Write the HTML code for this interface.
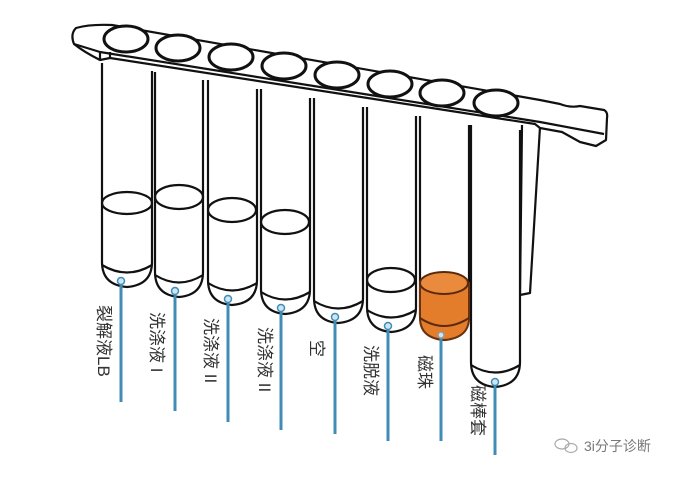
<!DOCTYPE html>
<html><head><meta charset="utf-8"><style>
html,body{margin:0;padding:0;background:#fff;width:692px;height:477px;overflow:hidden}
svg{display:block}
.t{font-family:"Liberation Sans","Noto Sans CJK SC",sans-serif;font-size:17px;fill:#333}
</style></head><body>
<svg width="692" height="477" viewBox="0 0 692 477" xmlns="http://www.w3.org/2000/svg">
<g fill="none" stroke="#111" stroke-width="2.2" stroke-linejoin="round">
<path d="M76,28 Q90,24 112,25 L540,100 L560,104 Q570,108 580,106 L604,110 Q608,112 607,118 L606,140 L596,146 L580,142 L562,132 L540,128 L535,124 L110,58 L100,60 Q84,52 74,44 Q70,34 76,28 Z" fill="#fff"/>
<path d="M74,44 L100,52 L540,122 L604,134"/>
<path d="M100,52 L100,60 M110,52 L110,58"/>
<path d="M522,125 L520,295 L530,293 L540,127"/>
</g>
<g fill="#fff" stroke="#111" stroke-width="2.2">
<path d="M102,63 L102,262 Q102,285 127,287 Q152,285 152,262 L152,71"/>
<path d="M155,72 L155,272 Q155,295 179,297 Q203,295 203,272 L203,80"/>
<path d="M208,80 L208,280 Q208,303 232,305 Q257,303 257,280 L257,89"/>
<path d="M261,89 L261,289 Q261,312 285,314 Q310,312 310,289 L310,98"/>
<path d="M314,98 L314,298 Q314,321 338,323 Q363,321 363,298 L363,107"/>
<path d="M367,107 L367,307 Q367,330 391,332 Q416,330 416,307 L416,116"/>
<path d="M420,116 L420,315 Q420,338 444,340 Q469,338 469,315 L469,125"/>
<path d="M471,125 L471,362 Q471,385 495,387 Q520,385 520,362 L520,130"/>
</g>
<g fill="none" stroke="#111" stroke-width="2.2">
<path d="M102,265 Q127,280 152,265"/>
<path d="M155,275 Q179,290 203,275"/>
<path d="M208,283 Q232,298 257,283"/>
<path d="M261,292 Q285,307 310,292"/>
<path d="M314,301 Q338,316 363,301"/>
<path d="M367,310 Q391,325 416,310"/>
<path d="M471,365 Q495,380 520,365"/>
<ellipse cx="127" cy="203" rx="25" ry="11"/>
<ellipse cx="179" cy="197" rx="24" ry="12"/>
<ellipse cx="232" cy="210" rx="24" ry="12"/>
<ellipse cx="285" cy="222" rx="24" ry="12"/>
<ellipse cx="391" cy="280" rx="24" ry="12"/>
</g>
<path d="M420,283 L420,318 Q420,338 444,340 Q469,338 469,318 L469,283 Z" fill="#e37d2c" stroke="#6b3210" stroke-width="2"/>
<ellipse cx="444" cy="283" rx="24" ry="11" fill="#ea8a3c" stroke="#5a2a0d" stroke-width="2"/>
<path d="M420,318 Q444,334 469,318" fill="none" stroke="#5a2a0d" stroke-width="2"/>
<g fill="#fff" stroke="#111" stroke-width="3">
<ellipse cx="126" cy="39" rx="22" ry="13"/>
<ellipse cx="178" cy="48" rx="22" ry="13"/>
<ellipse cx="231" cy="57" rx="22" ry="13"/>
<ellipse cx="284" cy="66" rx="22" ry="13"/>
<ellipse cx="337" cy="75" rx="22" ry="13"/>
<ellipse cx="390" cy="84" rx="22" ry="13"/>
<ellipse cx="442" cy="93" rx="22" ry="13"/>
<ellipse cx="496" cy="103" rx="22" ry="13"/>
</g>
<g stroke="#3f8db5" stroke-width="3" fill="#cfe6f2">
<line x1="121" y1="282" x2="121" y2="402"/><circle cx="121" cy="281" r="3.5" stroke-width="1.5"/>
<line x1="175" y1="292" x2="175" y2="411"/><circle cx="175" cy="291" r="3.5" stroke-width="1.5"/>
<line x1="228" y1="300" x2="228" y2="422"/><circle cx="228" cy="299" r="3.5" stroke-width="1.5"/>
<line x1="281" y1="309" x2="281" y2="430"/><circle cx="281" cy="308" r="3.5" stroke-width="1.5"/>
<line x1="335" y1="318" x2="335" y2="434"/><circle cx="335" cy="317" r="3.5" stroke-width="1.5"/>
<line x1="388" y1="327" x2="388" y2="441"/><circle cx="388" cy="326" r="3.5" stroke-width="1.5"/>
<line x1="441" y1="336" x2="441" y2="441"/><circle cx="441" cy="335" r="3" stroke="#999" stroke-width="1.5"/>
<line x1="495" y1="383" x2="495" y2="455"/><circle cx="495" cy="382" r="3.5" stroke-width="1.5"/>
</g>
<g class="t">
<text transform="translate(98,305) rotate(90)">裂解液LB</text>
<text transform="translate(151,312) rotate(90)">洗涤液 I</text>
<text transform="translate(205,318) rotate(90)">洗涤液 II</text>
<text transform="translate(259,327) rotate(90)">洗涤液 II</text>
<text transform="translate(311,340) rotate(90)">空</text>
<text transform="translate(365,345) rotate(90)">洗脱液</text>
<text transform="translate(419,355) rotate(90)">磁珠</text>
<text transform="translate(472,385) rotate(90)">磁棒套</text>
</g>
<g fill="none" stroke="#aaa" stroke-width="1.2">
<ellipse cx="562" cy="444" rx="7" ry="5"/>
<ellipse cx="571" cy="448" rx="6" ry="4.5"/>
</g>
<text x="584" y="451" font-family="Liberation Sans,'Noto Sans CJK SC',sans-serif" font-size="14" fill="#777">3i分子诊断</text>
</svg>
</body></html>
